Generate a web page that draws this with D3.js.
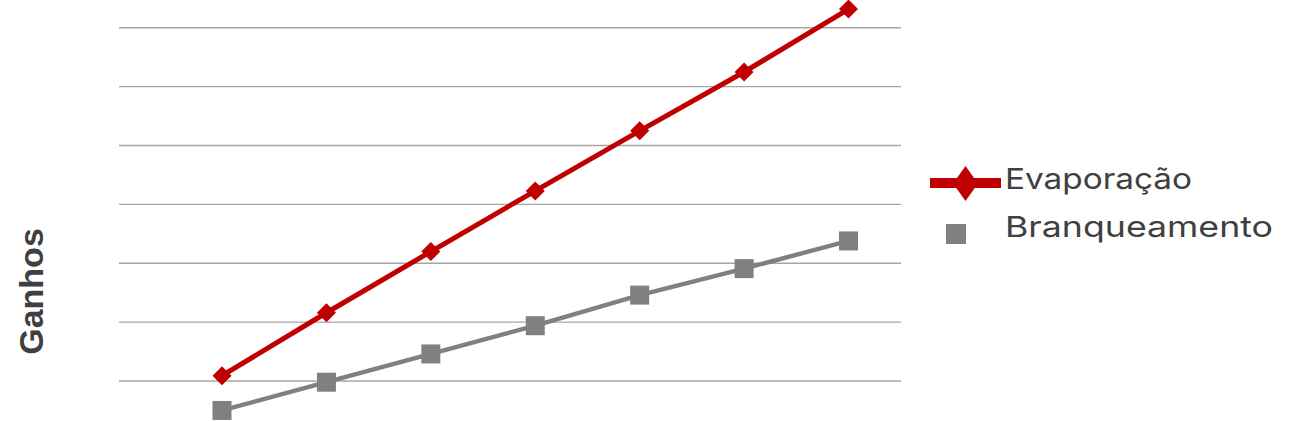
<!DOCTYPE html>
<html>
<head>
<meta charset="utf-8">
<script src="https://cdn.jsdelivr.net/npm/d3@7"></script>
<style>
  html, body { margin: 0; padding: 0; background: #ffffff; overflow: hidden; }
</style>
</head>
<body>
<svg></svg>
<script>
// Kategorien (Beschriftungen liegen unterhalb des sichtbaren Ausschnitts)
const categories = ["1", "2", "3", "4", "5", "6", "7"];
const evaporacao = [1.08, 2.15, 3.19, 4.22, 5.24, 6.24, 7.31];
const branqueamento = [0.49, 0.97, 1.45, 1.93, 2.45, 2.9, 3.37];
const gridTicks = [1, 2, 3, 4, 5, 6, 7];
const seriesNames = ["Evaporação", "Branqueamento"];
const yLabel = "Ganhos";

const svgWidth = 1300;
const svgHeight = 421;

const plot = { left: 119, right: 901, bottom: 439.3, step: 58.86 };

const svg = d3.select("svg").attr("width", svgWidth).attr("height", svgHeight);

// x: Punkte in der Mitte der Kategorien
const scaleX = d3
  .scalePoint()
  .domain(categories)
  .range([222, 848.5]);

// y: Wert 0 liegt knapp unter dem Bildrand
const scaleY = d3
  .scaleLinear()
  .domain([0, 8])
  .range([plot.bottom, plot.bottom - 8 * plot.step]);

// Gitterlinien
svg
  .append("g")
  .attr("transform", "translate(" + plot.left + ",0)")
  .call(
    d3
      .axisLeft(scaleY)
      .tickValues(gridTicks)
      .tickSize(-(plot.right - plot.left))
      .tickFormat("")
  )
  .call((g) => g.select(".domain").remove())
  .call((g) =>
    g.selectAll(".tick line").attr("stroke", "#a6a6a6").attr("stroke-width", 1.4)
  );

const line = d3
  .line()
  .x((d, i) => scaleX(categories[i]))
  .y((d) => scaleY(d));

// Branqueamento (grau)
svg
  .append("path")
  .datum(branqueamento)
  .attr("fill", "none")
  .attr("stroke", "#808080")
  .attr("stroke-width", 4.4)
  .attr("d", line);

svg
  .append("g")
  .selectAll("rect")
  .data(branqueamento)
  .enter()
  .append("rect")
  .attr("x", (d, i) => scaleX(categories[i]) - 9.5)
  .attr("y", (d) => scaleY(d) - 9.5)
  .attr("width", 19)
  .attr("height", 19)
  .attr("fill", "#808080");

// Evaporação (rot)
svg
  .append("path")
  .datum(evaporacao)
  .attr("fill", "none")
  .attr("stroke", "#c00000")
  .attr("stroke-width", 5)
  .attr("d", line);

const diamond = "M0,-9.5L9.5,0L0,9.5L-9.5,0Z";

svg
  .append("g")
  .selectAll("path")
  .data(evaporacao)
  .enter()
  .append("path")
  .attr("transform", (d, i) => "translate(" + scaleX(categories[i]) + "," + scaleY(d) + ")")
  .attr("d", diamond)
  .attr("fill", "#c00000");

// Y-Achsenbeschriftung
svg
  .append("text")
  .attr("transform", "translate(43,291.5) rotate(-90)")
  .attr("text-anchor", "middle")
  .style("font-family", "'Liberation Sans', Arial, sans-serif")
  .style("font-weight", "bold")
  .style("font-size", "34px")
  .attr("fill", "#404040")
  .text(yLabel);

// Legende
const legend = svg.append("g");

legend
  .append("line")
  .attr("x1", 930)
  .attr("x2", 1001)
  .attr("y1", 183)
  .attr("y2", 183)
  .attr("stroke", "#c00000")
  .attr("stroke-width", 10);

legend
  .append("path")
  .attr("d", "M965.5,166L978,183.5L965.5,201L953,183.5Z")
  .attr("fill", "#c00000");

legend
  .append("rect")
  .attr("x", 946)
  .attr("y", 224)
  .attr("width", 20)
  .attr("height", 20)
  .attr("fill", "#808080");

const legendText = [
  { label: seriesNames[0], y: 188.5, len: 187 },
  { label: seriesNames[1], y: 236.5, len: 268 },
];

legend
  .selectAll("text")
  .data(legendText)
  .enter()
  .append("text")
  .attr("x", 1005)
  .attr("y", (d) => d.y)
  .attr("textLength", (d) => d.len)
  .attr("lengthAdjust", "spacingAndGlyphs")
  .style("font-family", "Inter, 'Noto Sans', sans-serif")
  .style("font-size", "29px")
  .attr("fill", "#404040")
  .text((d) => d.label);
</script>
</body>
</html>
